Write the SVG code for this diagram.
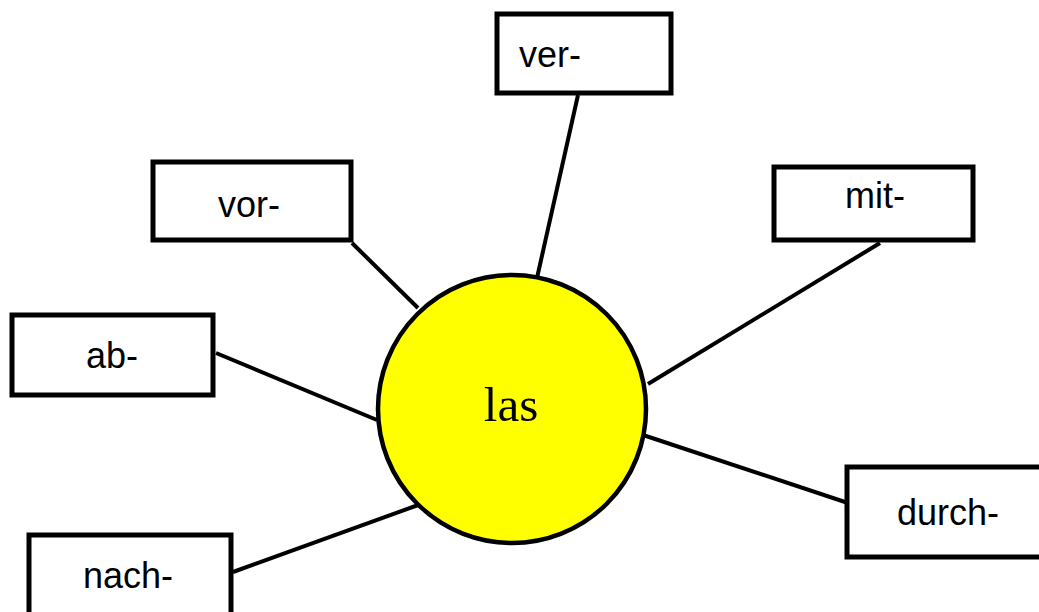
<svg xmlns="http://www.w3.org/2000/svg" width="1039" height="612" viewBox="0 0 1039 612">
<style>
.box{fill:#fff;stroke:#000;stroke-width:5}
.lbl{font-family:"Liberation Sans",Arial,sans-serif;font-size:36px;fill:#000}
.conn line{stroke:#000;stroke-width:4}
</style>
<rect width="1039" height="612" fill="#fff"/>
<g class="conn">
<line x1="578" y1="95" x2="537" y2="278"/>
<line x1="352" y1="243" x2="418" y2="308"/>
<line x1="216" y1="353" x2="377" y2="420"/>
<line x1="233" y1="572" x2="421" y2="504"/>
<line x1="880" y1="243" x2="648" y2="384"/>
<line x1="643" y1="435" x2="857" y2="506"/>
</g>
<g id="center">
<circle cx="512" cy="409" r="134" fill="#ffff00" stroke="#000" stroke-width="4.5"/>
<text x="511" y="421" text-anchor="middle" font-family="'Liberation Serif','Times New Roman',serif" font-size="49">las</text>
</g>
<g id="ver"><rect class="box" x="497" y="14" width="174" height="79"/><text class="lbl" x="519" y="67">ver-</text></g>
<g id="vor"><rect class="box" x="153" y="162" width="198" height="78"/><text class="lbl" x="218" y="217">vor-</text></g>
<g id="ab"><rect class="box" x="12" y="315" width="201" height="80"/><text class="lbl" x="86" y="368">ab-</text></g>
<g id="nach"><rect class="box" x="29" y="535" width="202" height="90"/><text class="lbl" x="83" y="588">nach-</text></g>
<g id="mit"><rect class="box" x="774" y="167" width="199" height="73"/><text class="lbl" x="845" y="208">mit-</text></g>
<g id="durch"><rect class="box" x="847" y="467" width="200" height="90"/><text class="lbl" x="897" y="525">durch-</text></g>
</svg>
